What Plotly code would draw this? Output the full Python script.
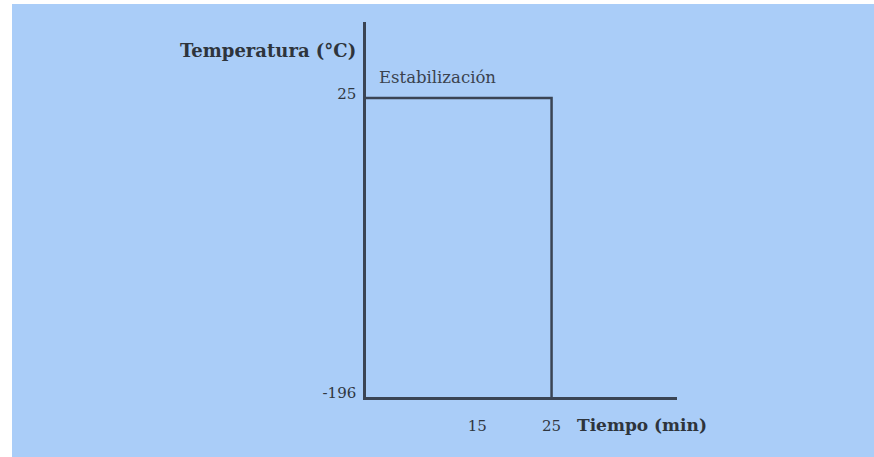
import plotly.graph_objects as go

# Data (schematic freezing protocol)
time_min = [0, 25, 25]
temperature_c = [25, 25, -196]
x_tick_vals = [15, 25]
x_tick_text = ["15", "25"]
y_tick_vals = [-196, 25]
y_tick_text = ["-196", "25"]

W, H = 874, 457
BLUE = "#AACDF8"
INK = "#3A4454"
FONT = "DejaVu Serif"

def px(x):
    return x / W

def py(y):
    return 1 - y / H

fig = go.Figure()
fig.add_trace(go.Scatter(
    x=time_min, y=temperature_c, mode="lines",
    line=dict(color=INK, width=2.5), showlegend=False, hoverinfo="skip",
))

fig.update_layout(
    width=W, height=H,
    autosize=False,
    margin=dict(l=0, r=0, t=0, b=0, pad=0),
    paper_bgcolor=BLUE,
    plot_bgcolor="rgba(0,0,0,0)",
    font=dict(family=FONT, size=15, color="#2f3640"),
    xaxis=dict(
        domain=[px(366), px(677)],
        range=[0, 41.9],
        automargin=False,
        showgrid=False, zeroline=False,
        showline=True, linecolor=INK, linewidth=2.5,
        tickvals=x_tick_vals, ticktext=x_tick_text,
        ticks="", ticklabelstandoff=13,
        tickfont=dict(family=FONT, size=15, color="#2f3640"),
    ),
    yaxis=dict(
        domain=[py(397), py(22)],
        range=[-196, 81.2],
        automargin=False,
        showgrid=False, zeroline=False,
        showline=True, linecolor=INK, linewidth=2.5,
        tickvals=y_tick_vals, ticktext=y_tick_text,
        ticks="", ticklabelstandoff=4, ticklabelshift=-4,
        tickfont=dict(family=FONT, size=15, color="#2f3640"),
    ),
    shapes=[
        dict(type="rect", xref="paper", yref="paper",
             x0=0, x1=px(12), y0=-0.05, y1=1.05,
             fillcolor="white", line=dict(width=0), layer="below"),
        dict(type="rect", xref="paper", yref="paper",
             x0=0, x1=1.05, y0=py(4), y1=1.05,
             fillcolor="white", line=dict(width=0), layer="below"),
    ],
    annotations=[
        dict(text="<b>Temperatura (°C)</b>", xref="paper", yref="paper",
             x=px(358), y=py(50), xanchor="right", yanchor="middle",
             showarrow=False, font=dict(family=FONT, size=18, color="#2e343c")),
        dict(text="Estabilización", xref="paper", yref="paper",
             x=px(377), y=py(77), xanchor="left", yanchor="middle",
             showarrow=False, font=dict(family=FONT, size=16.5, color="#3a424e")),
        dict(text="<b>Tiempo (min)</b>", xref="paper", yref="paper",
             x=px(575), y=py(425), xanchor="left", yanchor="middle",
             showarrow=False, font=dict(family=FONT, size=17, color="#2e343c")),
    ],
)

fig.write_html("out.html")
